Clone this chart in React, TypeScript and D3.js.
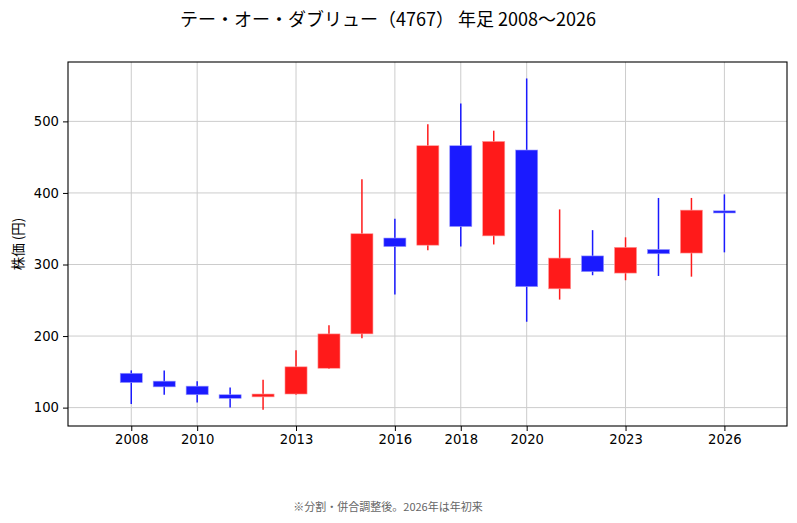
import { useEffect, useRef } from "react";
import * as d3 from "d3";

// data (adjusted yearly OHLC)
const years = [2008, 2009, 2010, 2011, 2012, 2013, 2014, 2015, 2016, 2017, 2018, 2019, 2020, 2021, 2022, 2023, 2024, 2025, 2026];
const opens = [148, 137, 130, 118, 115, 119, 155, 203, 337, 327, 466, 340, 460, 266, 312, 288, 321, 316, 375];
const highs = [152, 152, 137, 128, 139, 180, 215, 419, 364, 496, 525, 487, 560, 377, 348, 338, 393, 393, 398];
const lows = [105, 118, 107, 100, 97, 118, 154, 197, 258, 320, 325, 328, 220, 251, 285, 278, 284, 283, 317];
const closes = [135, 129, 118, 113, 119, 157, 203, 343, 325, 466, 353, 472, 269, 309, 290, 324, 315, 376, 372];

const xTicks = [2008, 2010, 2013, 2016, 2018, 2020, 2023, 2026];
const yTicks = [100, 200, 300, 400, 500];

const TITLE = "テー・オー・ダブリュー（4767） 年足 2008～2026";
const NOTE = "※分割・併合調整後。2026年は年初来";
const Y_LABEL = "株価 (円)";

const W = 797;
const H = 523;
const CJK = "'Noto Sans CJK JP', 'Noto Sans', sans-serif";
const TICK_FONT = "'DejaVu Sans', sans-serif";
const UP = "#ff1a1a";
const DOWN = "#1a1aff";

export default function App() {
  // useRef
  const ref = useRef<SVGSVGElement>(null);

  // useEffect
  useEffect(() => {
    if (!ref.current) return;
    const svg = d3.select(ref.current);
    svg.selectAll("*").remove();

    const m = { top: 62, right: 10, bottom: 97, left: 68 };
    const w = W - m.left - m.right;
    const h = H - m.top - m.bottom;

    const xScale = d3.scaleLinear().domain([2006.08, 2027.9]).range([0, w]);
    const yScale = d3.scaleLinear().domain([74.3, 583]).range([h, 0]);
    const bw = xScale(2008.67) - xScale(2008);

    svg.append("rect").attr("width", W).attr("height", H).attr("fill", "#fff");

    const g = svg.append("g").attr("transform", `translate(${m.left},${m.top})`);

    // Grid
    g.selectAll(".gx")
      .data(xTicks)
      .join("line")
      .attr("x1", (d) => xScale(d))
      .attr("x2", (d) => xScale(d))
      .attr("y1", 0)
      .attr("y2", h)
      .attr("stroke", "#cccccc")
      .attr("stroke-width", 1);
    g.selectAll(".gy")
      .data(yTicks)
      .join("line")
      .attr("x1", 0)
      .attr("x2", w)
      .attr("y1", (d) => yScale(d))
      .attr("y2", (d) => yScale(d))
      .attr("stroke", "#cccccc")
      .attr("stroke-width", 1);

    // Candles
    const idx = years.map((_, i) => i);
    g.selectAll(".wick")
      .data(idx)
      .join("line")
      .attr("x1", (i) => xScale(years[i]))
      .attr("x2", (i) => xScale(years[i]))
      .attr("y1", (i) => yScale(highs[i]))
      .attr("y2", (i) => yScale(lows[i]))
      .attr("stroke", (i) => (closes[i] >= opens[i] ? UP : DOWN))
      .attr("stroke-width", 1.5);
    g.selectAll(".body")
      .data(idx)
      .join("rect")
      .attr("x", (i) => xScale(years[i]) - bw / 2)
      .attr("width", bw)
      .attr("y", (i) => yScale(Math.max(opens[i], closes[i])))
      .attr("height", (i) => Math.max(1, Math.abs(yScale(opens[i]) - yScale(closes[i]))))
      .attr("fill", (i) => (closes[i] >= opens[i] ? UP : DOWN))
      .attr("stroke", (i) => (closes[i] >= opens[i] ? "#ff9a9a" : "#9a9aff"))
      .attr("stroke-width", 0.6);

    // Axes
    g.append("g")
      .attr("transform", `translate(0,${h})`)
      .call(d3.axisBottom(xScale).tickValues(xTicks).tickFormat(d3.format("d")).tickSize(5).tickPadding(4))
      .call((a) => {
        a.select(".domain").remove();
        a.selectAll("text").attr("font-size", 13.2).attr("font-family", TICK_FONT).attr("fill", "#000");
        a.selectAll("line").attr("stroke", "#000");
      });
    g.append("g")
      .call(d3.axisLeft(yScale).tickValues(yTicks).tickFormat(d3.format("d")).tickSize(5).tickPadding(4))
      .call((a) => {
        a.select(".domain").remove();
        a.selectAll("text").attr("font-size", 13.2).attr("font-family", TICK_FONT).attr("fill", "#000");
        a.selectAll("line").attr("stroke", "#000");
      });

    g.append("rect")
      .attr("width", w)
      .attr("height", h)
      .attr("fill", "none")
      .attr("stroke", "#000")
      .attr("stroke-width", 1.1);

    // Labels
    g.append("text")
      .attr("transform", "rotate(-90)")
      .attr("x", -h / 2)
      .attr("y", -45)
      .attr("text-anchor", "middle")
      .attr("font-size", 13.5)
      .attr("font-family", CJK)
      .text(Y_LABEL);

    svg.append("text")
      .attr("x", 388)
      .attr("y", 26)
      .attr("text-anchor", "middle")
      .attr("font-size", 18)
      .attr("font-family", CJK)
      .text(TITLE);

    svg.append("text")
      .attr("x", 388)
      .attr("y", 511)
      .attr("text-anchor", "middle")
      .attr("font-size", 11)
      .attr("font-family", CJK)
      .attr("fill", "#666")
      .text(NOTE);
  }, []);

  return (
    <svg
      ref={ref}
      width={W}
      height={H}
      style={{ position: "absolute", left: 0, top: 0, display: "block" }}
    />
  );
}
